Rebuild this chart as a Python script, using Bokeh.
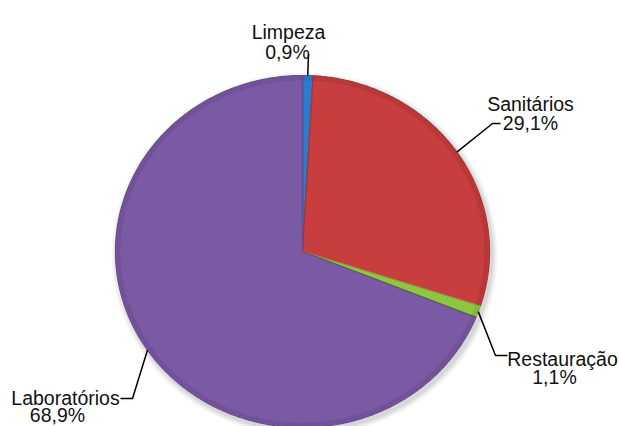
import numpy as np
from bokeh.plotting import figure
from bokeh.models import Range1d, ColumnDataSource
from bokeh.core.properties import value
from bokeh.embed import file_html
from bokeh.resources import INLINE

# ---- data ----
categories = ["Limpeza", "Sanitários", "Restauração", "Laboratórios"]
percentages = [0.9, 29.1, 1.1, 68.9]
colors = ["#2c7bcc", "#c83d3d", "#8fc641", "#7b5aa5"]
edge_colors = ["#2a6fb8", "#a83232", "#78a834", "#664a8c"]

# ---- layout (pixel coordinates of the picture) ----
W, H = 619, 426
CX, CY = 302.0, 251.0
RX, RY = 187.0, 176.0
label_line1 = [(288, 31), (530, 103), (562, 358), (65, 397)]
label_line2 = [(287, 51), (530, 122), (554, 376), (57, 414)]
leader_elbows = [[(308, 53)], [(492, 123), (500, 123)], [(495, 355), (507, 355)], [(132, 398), (120, 398)]]

p = figure(width=W, height=H, output_backend="svg", toolbar_location=None,
           x_range=Range1d(0, W), y_range=Range1d(H, 0), min_border=0)
p.axis.visible = False
p.grid.visible = False
p.outline_line_color = None
p.background_fill_color = "white"
p.border_fill_color = "white"

vals = np.array(percentages, dtype=float)
fr = vals / vals.sum()
ends = np.cumsum(fr) * 2 * np.pi
starts = ends - fr * 2 * np.pi

xs, ys = [], []
for a0, a1 in zip(starts, ends):
    t = np.linspace(a0, a1, max(8, int((a1 - a0) * 120)))
    xs.append([CX] + list(CX + RX * np.sin(t)) + [CX])
    ys.append([CY] + list(CY - RY * np.cos(t)) + [CY])

# soft shadow under the pie
ts = np.linspace(0, 2 * np.pi, 400)
for k, a in [(6, 0.04), (4, 0.05), (2, 0.07)]:
    p.patch(CX + 2 + (RX + k) * np.sin(ts), CY + 3 + (RY + k) * np.cos(ts),
            fill_color="#000000", fill_alpha=a, line_color=None)

src = ColumnDataSource(dict(xs=xs, ys=ys, fill=colors, edge=edge_colors, cat=categories))
p.patches("xs", "ys", source=src, fill_color="fill", line_color="edge", line_width=1.2)

# subtle darker rim near the outer edge (bevel look)
for i, (a0, a1) in enumerate(zip(starts, ends)):
    t = np.linspace(a0, a1, max(8, int((a1 - a0) * 120)))
    p.line(list(CX + (RX - 3) * np.sin(t)), list(CY - (RY - 3) * np.cos(t)),
           line_color="black", line_alpha=0.08, line_width=4)

# leader lines
mids = (starts + ends) / 2
for i, m in enumerate(mids):
    sx = CX + RX * np.sin(m)
    sy = CY - RY * np.cos(m)
    lx = [sx] + [e[0] for e in leader_elbows[i]]
    ly = [sy] + [e[1] for e in leader_elbows[i]]
    p.line(lx, ly, line_color="black", line_width=1.5)

# labels
pct_text = [("%.1f%%" % v).replace(".", ",") for v in percentages]
p.text(x=[q[0] for q in label_line1], y=[q[1] for q in label_line1], text=categories,
       text_align="center", text_baseline="alphabetic", text_font=value("Liberation Sans"),
       text_font_size="19.5px", text_color="#111111")
p.text(x=[q[0] for q in label_line2], y=[q[1] for q in label_line2], text=pct_text,
       text_align="center", text_baseline="alphabetic", text_font=value("Liberation Sans"),
       text_font_size="19.5px", text_color="#111111")

open("out.html", "w").write(file_html(p, INLINE))
